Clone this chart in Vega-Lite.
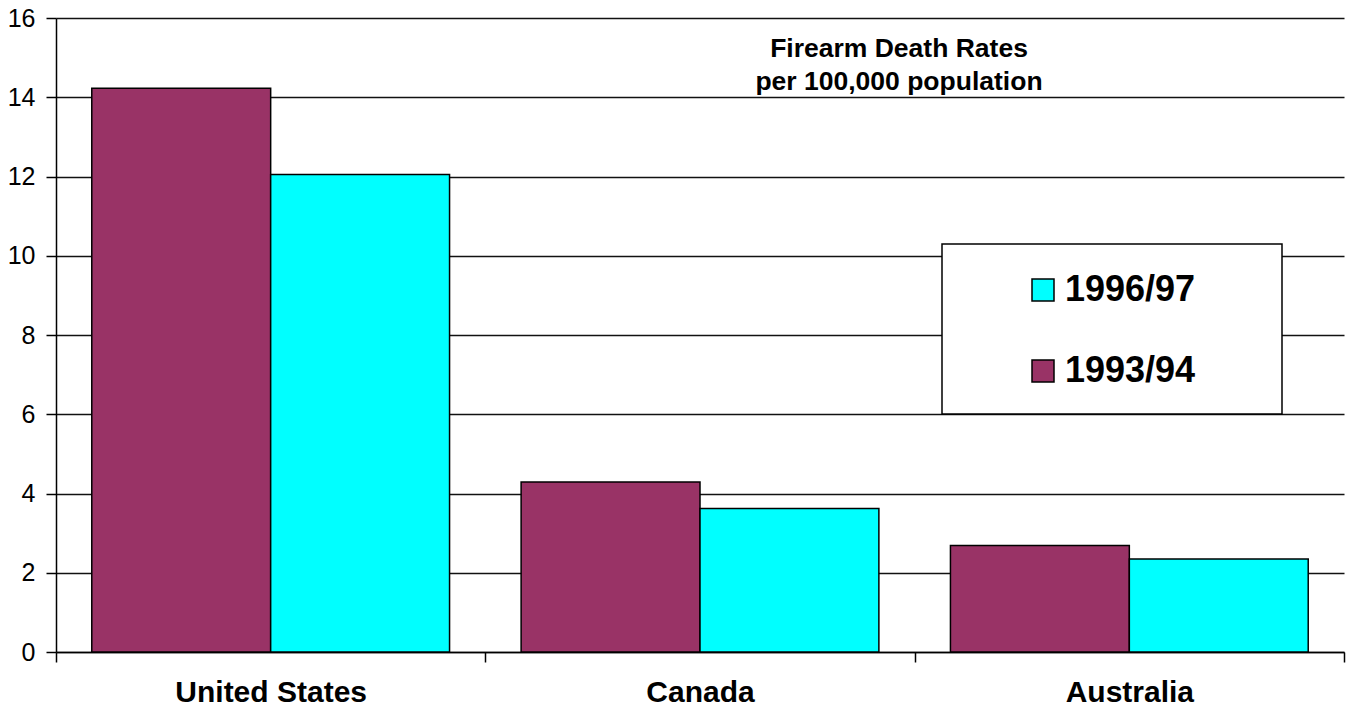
{
  "$schema": "https://vega.github.io/schema/vega-lite/v6.json",
  "width": 1288,
  "height": 634,
  "autosize": {"type": "none"},
  "padding": {"left": 56, "top": 18, "right": 4, "bottom": 57},
  "background": "white",
  "title": {
    "text": ["Firearm Death Rates", "per 100,000 population"],
    "orient": "top",
    "anchor": "middle",
    "frame": "group",
    "baseline": "top",
    "offset": 0,
    "dx": 199,
    "dy": 89,
    "font": "Liberation Sans",
    "fontSize": 26.5,
    "fontWeight": "bold",
    "lineHeight": 33,
    "color": "black"
  },
  "data": {
    "values": [
      {"country": "United States", "period": "1993/94", "rate": 14.23},
      {"country": "United States", "period": "1996/97", "rate": 12.05},
      {"country": "Canada", "period": "1993/94", "rate": 4.29},
      {"country": "Canada", "period": "1996/97", "rate": 3.62},
      {"country": "Australia", "period": "1993/94", "rate": 2.69},
      {"country": "Australia", "period": "1996/97", "rate": 2.35}
    ]
  },
  "mark": {"type": "bar", "stroke": "black", "strokeWidth": 1.5},
  "encoding": {
    "x": {
      "field": "country",
      "type": "nominal",
      "sort": ["United States", "Canada", "Australia"],
      "scale": {"paddingInner": 0, "paddingOuter": 0},
      "axis": {
        "title": null,
        "labelAngle": 0,
        "tickBand": "extent",
        "labelFontSize": 30,
        "labelFontWeight": "bold",
        "labelPadding": 15,
        "labelLimit": 500,
        "tickSize": 10,
        "grid": false
      }
    },
    "xOffset": {
      "field": "period",
      "type": "nominal",
      "sort": ["1993/94", "1996/97"],
      "scale": {"paddingInner": 0, "paddingOuter": 0.2}
    },
    "y": {
      "field": "rate",
      "type": "quantitative",
      "scale": {"domain": [0, 16], "nice": false},
      "axis": {
        "title": null,
        "values": [0, 2, 4, 6, 8, 10, 12, 14, 16],
        "tickSize": 10,
        "labelPadding": 11,
        "labelFontSize": 25,
        "grid": true,
        "gridColor": "#111111",
        "gridWidth": 1.3
      }
    },
    "color": {
      "field": "period",
      "type": "nominal",
      "scale": {"domain": ["1996/97", "1993/94"], "range": ["#00FFFF", "#993366"]},
      "legend": {
        "title": ".",
        "titleOrient": "right",
        "titleColor": "white",
        "titleFontSize": 4,
        "titlePadding": 60,
        "orient": "none",
        "legendX": 886,
        "legendY": 226,
        "padding": 25,
        "strokeColor": "black",
        "fillColor": "white",
        "symbolType": "square",
        "symbolSize": 484,
        "symbolStrokeColor": "black",
        "symbolStrokeWidth": 1.5,
        "symbolOpacity": 1,
        "symbolOffset": 58,
        "labelOffset": 4,
        "labelFont": "Liberation Sans",
        "labelFontSize": 36,
        "labelFontWeight": "bold",
        "labelColor": "black",
        "labelLimit": 500,
        "rowPadding": 42,
        "encode": {
          "legend": {"update": {"strokeWidth": {"value": 1.5}}},
          "symbols": {"update": {"yc": {"field": "size", "mult": 0.5, "offset": 3}}},
          "labels": {"update": {"dy": {"value": 3}}}
        }
      }
    }
  },
  "config": {
    "view": {"stroke": null},
    "axis": {
      "labelFont": "Liberation Sans",
      "labelColor": "black",
      "domainColor": "black",
      "domainWidth": 1.5,
      "tickColor": "black",
      "tickWidth": 1.5
    }
  }
}
